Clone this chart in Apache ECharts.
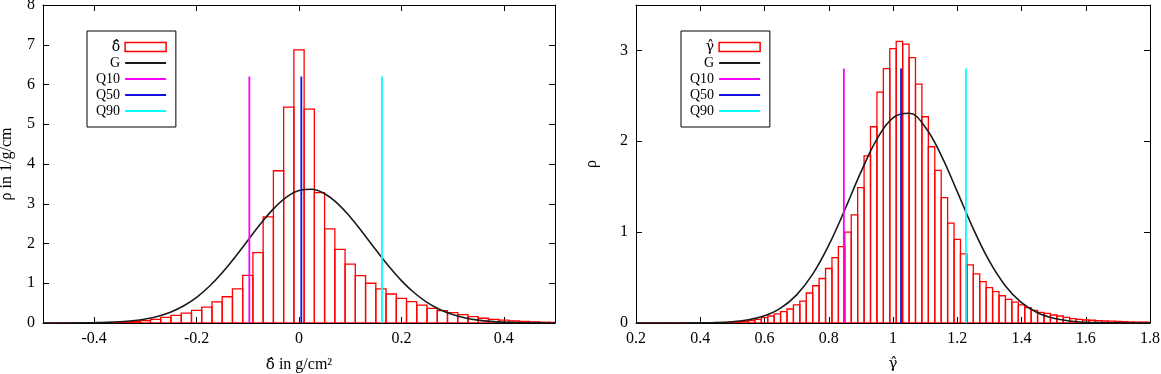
<!DOCTYPE html>
<html>
<head>
<meta charset="utf-8">
<script src="https://cdn.jsdelivr.net/npm/echarts@6/dist/echarts.min.js"></script>
<style>
  html, body { margin: 0; padding: 0; background: #fff; }
  #chart { width: 1161px; height: 374px; }
</style>
</head>
<body>
<div id="chart"></div>
<script>
// left panel: delta histogram (bin width 0.02)
const deltaBins = [-0.50, -0.48, -0.46, -0.44, -0.42, -0.40, -0.38, -0.36, -0.34, -0.32,
  -0.30, -0.28, -0.26, -0.24, -0.22, -0.20, -0.18, -0.16, -0.14, -0.12,
  -0.10, -0.08, -0.06, -0.04, -0.02, 0.00, 0.02, 0.04, 0.06, 0.08,
  0.10, 0.12, 0.14, 0.16, 0.18, 0.20, 0.22, 0.24, 0.26, 0.28,
  0.30, 0.32, 0.34, 0.36, 0.38, 0.40, 0.42, 0.44, 0.46, 0.48, 0.50]
const deltaRho = [0.002, 0.002, 0.003, 0.004, 0.005, 0.007, 0.010, 0.014, 0.020, 0.035,
  0.06, 0.09, 0.14, 0.19, 0.25, 0.32, 0.40, 0.53, 0.66, 0.86,
  1.20, 1.77, 2.67, 3.83, 5.43, 6.87, 5.38, 3.28, 2.37, 1.85,
  1.48, 1.19, 1.00, 0.86, 0.73, 0.62, 0.54, 0.45, 0.37, 0.31,
  0.26, 0.21, 0.16, 0.12, 0.09, 0.07, 0.05, 0.04, 0.03, 0.02, 0.015]
const deltaGaussX = [-0.5, -0.475, -0.45, -0.425, -0.4, -0.375, -0.35, -0.325, -0.3, -0.275,
  -0.25, -0.225, -0.2, -0.175, -0.15, -0.125, -0.1, -0.075, -0.05, -0.025,
  0, 0.025, 0.05, 0.075, 0.1, 0.125, 0.15, 0.175, 0.2, 0.225,
  0.25, 0.275, 0.3, 0.325, 0.35, 0.375, 0.4, 0.425, 0.45, 0.475, 0.5]
const deltaGaussY = [0.0003, 0.0007, 0.0017, 0.0037, 0.0078, 0.0158, 0.0306, 0.0567, 0.101, 0.171,
  0.278, 0.434, 0.647, 0.925, 1.265, 1.657, 2.078, 2.496, 2.870, 3.160,
  3.332, 3.364, 3.252, 3.010, 2.668, 2.265, 1.840, 1.432, 1.067, 0.761,
  0.520, 0.340, 0.213, 0.128, 0.073, 0.040, 0.021, 0.011, 0.005, 0.002, 0.001]
const deltaQuantiles = [-0.097, 0.0045, 0.162]   // Q10, Q50, Q90
const deltaQTop = 6.2
const deltaXTicks = [-0.4, -0.2, 0, 0.2, 0.4]
const deltaYTicks = [0, 1, 2, 3, 4, 5, 6, 7, 8]

// right panel: gamma histogram (bin width 0.02)
const gammaBins = [0.20, 0.22, 0.24, 0.26, 0.28, 0.30, 0.32, 0.34, 0.36, 0.38,
  0.40, 0.42, 0.44, 0.46, 0.48, 0.50, 0.52, 0.54, 0.56, 0.58,
  0.60, 0.62, 0.64, 0.66, 0.68, 0.70, 0.72, 0.74, 0.76, 0.78,
  0.80, 0.82, 0.84, 0.86, 0.88, 0.90, 0.92, 0.94, 0.96, 0.98,
  1.00, 1.02, 1.04, 1.06, 1.08, 1.10, 1.12, 1.14, 1.16, 1.18,
  1.20, 1.22, 1.24, 1.26, 1.28, 1.30, 1.32, 1.34, 1.36, 1.38,
  1.40, 1.42, 1.44, 1.46, 1.48, 1.50, 1.52, 1.54, 1.56, 1.58,
  1.60, 1.62, 1.64, 1.66, 1.68, 1.70, 1.72, 1.74, 1.76, 1.78, 1.80]
const gammaRho = [0.002, 0.002, 0.002, 0.002, 0.002, 0.002, 0.002, 0.002, 0.003, 0.003,
  0.003, 0.003, 0.004, 0.005, 0.006, 0.008, 0.012, 0.018, 0.026, 0.040,
  0.059, 0.077, 0.100, 0.125, 0.154, 0.20, 0.24, 0.33, 0.41, 0.49,
  0.60, 0.72, 0.84, 1.00, 1.19, 1.49, 1.84, 2.16, 2.54, 2.80,
  3.02, 3.10, 3.07, 2.92, 2.63, 2.27, 1.94, 1.68, 1.38, 1.10,
  0.92, 0.76, 0.64, 0.54, 0.455, 0.39, 0.345, 0.30, 0.26, 0.23,
  0.20, 0.17, 0.14, 0.117, 0.106, 0.088, 0.077, 0.062, 0.048, 0.040,
  0.033, 0.030, 0.025, 0.022, 0.020, 0.018, 0.015, 0.012, 0.010, 0.010, 0.008]
const gammaGaussX = [0.2, 0.25, 0.3, 0.35, 0.4, 0.45, 0.5, 0.55, 0.6, 0.65,
  0.7, 0.75, 0.8, 0.85, 0.9, 0.95, 1.0, 1.05, 1.1, 1.15,
  1.2, 1.25, 1.3, 1.35, 1.4, 1.45, 1.5, 1.55, 1.6, 1.65, 1.7, 1.75, 1.8]
const gammaGaussY = [0, 0, 0.0002, 0.0005, 0.0018, 0.0052, 0.014, 0.035, 0.079, 0.163,
  0.310, 0.538, 0.856, 1.246, 1.660, 2.024, 2.259, 2.308, 2.158, 1.846,
  1.446, 1.036, 0.680, 0.408, 0.224, 0.113, 0.052, 0.022, 0.008, 0.003, 0.001, 0.0003, 0.0001]
const gammaQuantiles = [0.847, 1.025, 1.227]
const gammaQTop = 2.8
const gammaXTicks = [0.2, 0.4, 0.6, 0.8, 1, 1.2, 1.4, 1.6, 1.8]
const gammaYTicks = [0, 1, 2, 3]

const binHalf = 0.01
const FONT = "'Liberation Serif', 'DejaVu Serif', serif"
const HATFONT = "'DejaVu Serif', serif"
const qNames = ['Q10', 'Q50', 'Q90']
const qColors = ['#ff00ff', '#1010e0', '#00ffff']
const lineIcon = 'path://M0,0h41v2h-41z'

const chart = echarts.init(document.getElementById('chart'))

function renderBox(params, api) {
  const x = api.value(0)
  const h = api.value(1)
  const p0 = api.coord([x - binHalf, 0])
  const p1 = api.coord([x + binHalf, h])
  return {
    type: 'rect',
    shape: { x: p0[0], y: p1[1], width: p1[0] - p0[0], height: p0[1] - p1[1] },
    style: { fill: 'none', stroke: '#ff0000', lineWidth: 1.3 }
  }
}

const nameRich = {
  hat: { fontSize: 15, fontFamily: HATFONT, color: '#000' },
  t: { fontSize: 16, fontFamily: FONT, color: '#000' }
}

function xAxisPair(grid, min, max, ticks, name) {
  const line = { show: true, onZero: false, lineStyle: { color: '#000', width: 1 } }
  const tick = { show: true, inside: true, length: 6, customValues: ticks, lineStyle: { color: '#000' } }
  return [
    {
      type: 'value', gridIndex: grid, position: 'bottom', min, max,
      axisLine: line, axisTick: tick, splitLine: { show: false },
      axisLabel: { customValues: ticks, margin: 8, fontSize: 16, fontFamily: FONT, color: '#000',
        formatter: v => String(v) },
      name, nameLocation: 'middle', nameGap: 34,
      nameTextStyle: { fontSize: 16, fontFamily: FONT, color: '#000', rich: nameRich }
    },
    {
      type: 'value', gridIndex: grid, position: 'top', min, max,
      axisLine: line, axisTick: tick, splitLine: { show: false }, axisLabel: { show: false }
    }
  ]
}

function yAxisPair(grid, min, max, ticks, name, gap) {
  const line = { show: true, onZero: false, lineStyle: { color: '#000', width: 1 } }
  const tick = { show: true, inside: true, length: 6, customValues: ticks, lineStyle: { color: '#000' } }
  return [
    {
      type: 'value', gridIndex: grid, position: 'left', min, max,
      axisLine: line, axisTick: tick, splitLine: { show: false },
      axisLabel: { customValues: ticks, margin: 8, fontSize: 16, fontFamily: FONT, color: '#000' },
      name, nameLocation: 'middle', nameGap: gap,
      nameTextStyle: { fontSize: 16, fontFamily: FONT, color: '#000' }
    },
    {
      type: 'value', gridIndex: grid, position: 'right', min, max,
      axisLine: line, axisTick: tick, splitLine: { show: false }, axisLabel: { show: false }
    }
  ]
}

function panelSeries(axisIdx, histName, bins, rho, gx, gy, quantiles, qTop) {
  const list = [
    {
      name: histName, type: 'custom', xAxisIndex: axisIdx, yAxisIndex: axisIdx,
      renderItem: renderBox, clip: true,
      itemStyle: { color: 'rgba(0,0,0,0)', borderColor: '#ff0000', borderWidth: 1.5 },
      data: bins.map((b, i) => [b, rho[i]])
    },
    {
      name: 'G', type: 'line', xAxisIndex: axisIdx, yAxisIndex: axisIdx,
      smooth: 0.4, symbol: 'none', clip: true,
      lineStyle: { color: '#1a1a1a', width: 1.6 }, itemStyle: { color: '#1a1a1a' },
      data: gx.map((x, i) => [x, gy[i]])
    }
  ]
  quantiles.forEach((q, i) => {
    list.push({
      name: qNames[i], type: 'line', xAxisIndex: axisIdx, yAxisIndex: axisIdx,
      symbol: 'none', lineStyle: { color: qColors[i], width: 1.8 }, itemStyle: { color: qColors[i] },
      data: [[q, 0], [q, qTop]]
    })
  })
  return list
}

function legendFor(left, histName) {
  return {
    left, top: 31, orient: 'vertical', align: 'right',
    itemWidth: 41, itemHeight: 9, itemGap: 2, padding: [9, 9, 9, 9],
    borderColor: '#000', borderWidth: 1, selectedMode: false,
    textStyle: { fontSize: 14, fontFamily: FONT, color: '#000',
      rich: { hat: { fontSize: 14, fontFamily: HATFONT, color: '#000' } } },
    formatter: n => n === histName ? '{hat|' + n + '}' : n,
    data: [
      { name: histName, icon: 'rect',
        itemStyle: { color: 'rgba(0,0,0,0)', borderColor: '#ff0000', borderWidth: 1.5 } },
      { name: 'G', icon: lineIcon, itemStyle: { color: '#1a1a1a' } },
      { name: 'Q10', icon: lineIcon, itemStyle: { color: qColors[0] } },
      { name: 'Q50', icon: lineIcon, itemStyle: { color: qColors[1] } },
      { name: 'Q90', icon: lineIcon, itemStyle: { color: qColors[2] } }
    ]
  }
}

const option = {
  animation: false,
  backgroundColor: '#fff',
  grid: [
    { left: 43, top: 5, width: 512, height: 318, outerBoundsMode: 'none' },
    { left: 636, top: 5, width: 514, height: 318, outerBoundsMode: 'none' }
  ],
  xAxis: [
    ...xAxisPair(0, -0.5, 0.5, deltaXTicks, '{hat|δ̂}{t| in g/cm²}'),
    ...xAxisPair(1, 0.2, 1.8, gammaXTicks, '{hat|γ̂}')
  ],
  yAxis: [
    ...yAxisPair(0, 0, 8, deltaYTicks, 'ρ in 1/g/cm', 28),
    ...yAxisPair(1, 0, 3.5, gammaYTicks, 'ρ', 36)
  ],
  legend: [legendFor(87, 'δ̂'), legendFor(681, 'γ̂')],
  series: [
    ...panelSeries(0, 'δ̂', deltaBins, deltaRho, deltaGaussX, deltaGaussY, deltaQuantiles, deltaQTop),
    ...panelSeries(2, 'γ̂', gammaBins, gammaRho, gammaGaussX, gammaGaussY, gammaQuantiles, gammaQTop)
  ]
}

chart.setOption(option)
</script>
</body>
</html>
